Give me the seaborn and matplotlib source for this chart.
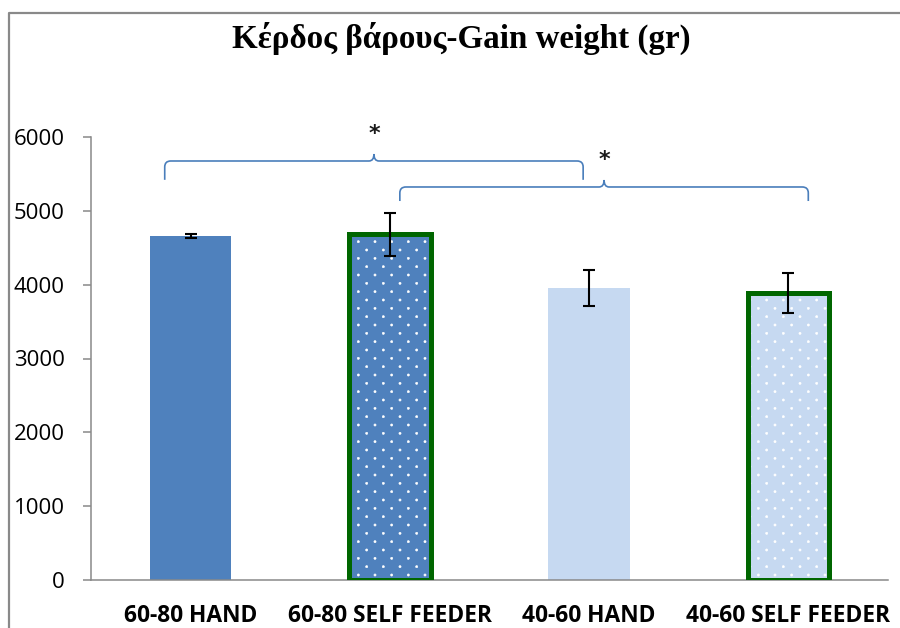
import numpy as np
import pandas as pd
import matplotlib
matplotlib.use("Agg")
import matplotlib.pyplot as plt
import matplotlib.hatch as mhatch
from matplotlib.path import Path
from matplotlib.patches import PathPatch, Rectangle
from matplotlib.lines import Line2D
import seaborn as sns

# ---- data -------------------------------------------------------------
groups = ["60-80 HAND", "60-80 SELF FEEDER", "40-60 HAND", "40-60 SELF FEEDER"]
gain = [4660, 4680, 3955, 3885]
gain_err = [25, 290, 250, 270]
bar_colors = ["#4F81BD", "#4F81BD", "#C6D9F1", "#C6D9F1"]
self_feeder = [False, True, False, True]
y_ticks = [0, 1000, 2000, 3000, 4000, 5000, 6000]
title = "Κέρδος βάρους-Gain weight (gr)"
# significance brackets: (left x, right x, bracket level, leg depth, label)
brackets = [(-0.13, 1.97, 5675, 255, "*"), (1.05, 3.10, 5323, 190, "*")]


# ---- dotted fill: staggered rows, twice as many rows as columns --------
class StaggeredDots(mhatch.HatchPatternBase):
    def __init__(self, hatch, density):
        n = hatch.count('.') * density
        self.num_vertices = 0
        if n == 0:
            return
        circle = Path.unit_circle()
        radius = 0.065 / n
        verts, codes = [], []
        for row in range(2 * n + 1):
            y = row / (2 * n)
            if row % 2 == 0:
                xs = np.linspace(0, 1, n + 1)
            else:
                xs = np.linspace(0.5 / n, 1 - 0.5 / n, n)
            for x in xs:
                verts.append(circle.vertices * radius + [x, y])
                codes.append(circle.codes)
        self._v = np.concatenate(verts)
        self._c = np.concatenate(codes)
        self.num_vertices = len(self._v)

    def set_vertices_and_codes(self, vertices, codes):
        vertices[:] = self._v
        codes[:] = self._c


mhatch._hatch_types = [StaggeredDots if t is mhatch.SmallFilledCircles else t
                       for t in mhatch._hatch_types]

sns.set_style("white")
plt.rcParams["font.family"] = ["Open Sans", "DejaVu Sans"]
plt.rcParams["hatch.color"] = "white"
plt.rcParams["hatch.linewidth"] = 0.4

W, H = 900, 628
fig = plt.figure(figsize=(W / 100, H / 100), dpi=100)
ax = fig.add_axes([91 / W, 48 / H, (888 - 91) / W, (580 - 137) / H])

df = pd.DataFrame({"group": groups, "gain": gain})
sns.barplot(data=df, x="group", y="gain", hue="group", palette=bar_colors,
            width=0.41, errorbar=None, legend=False, saturation=1, ax=ax)

bars = sorted(ax.patches, key=lambda p: p.get_x())
for bar, dotted in zip(bars, self_feeder):
    bar.set_linewidth(0)
    if dotted:
        bar.set_edgecolor("white")
        bar.set_hatch(".")
        ax.add_patch(Rectangle(bar.get_xy(), bar.get_width(), bar.get_height(),
                               fill=False, edgecolor="#006600", linewidth=3.6,
                               joinstyle="miter", zorder=3))

ax.errorbar(range(len(groups)), gain, yerr=gain_err, fmt="none",
            ecolor="black", elinewidth=1.5, capsize=4.3, capthick=1.5, zorder=5)

# ---- axes styling -----------------------------------------------------
grey = "#898989"
ax.set_xlim(-0.5, len(groups) - 0.5)
ax.set_ylim(0, 6000)
ax.set_yticks(y_ticks)
ax.set_xlabel("")
ax.set_ylabel("")
for side in ("top", "right"):
    ax.spines[side].set_visible(False)
for side in ("left", "bottom"):
    ax.spines[side].set_color(grey)
    ax.spines[side].set_linewidth(1.1)

ax.set_xticks(range(len(groups)))
ax.set_xticklabels(groups)
ax.set_xticks(np.arange(-0.5, len(groups), 1.0), minor=True)
ax.tick_params(axis="x", which="major", length=0, pad=17)
ax.tick_params(axis="x", which="minor", length=6, width=1.1, color=grey,
               direction="out")
ax.tick_params(axis="y", length=6, width=1.1, color=grey, direction="out",
               pad=13, left=True)
for lab in ax.get_yticklabels():
    lab.set_fontsize(16)
    lab.set_color("black")
for lab in ax.get_xticklabels():
    lab.set_fontsize(16.4)
    lab.set_fontweight("bold")
    lab.set_color("black")

# ---- significance braces ---------------------------------------------
px_x = 1 / 199.0      # data units per pixel, x
px_y = 6000 / 443.0   # data units per pixel, y
for x0, x1, yh, depth, label in brackets:
    xm = (x0 + x1) / 2
    rx, ry = 6 * px_x, 6 * px_y
    cx, peak = 5 * px_x, 7 * px_y
    verts = [
        (x0, yh - depth), (x0, yh - ry),
        (x0, yh), (x0 + rx, yh),
        (xm - cx, yh),
        (xm, yh), (xm, yh + peak),
        (xm, yh), (xm + cx, yh),
        (x1 - rx, yh),
        (x1, yh), (x1, yh - ry),
        (x1, yh - depth),
    ]
    codes = [Path.MOVETO, Path.LINETO,
             Path.CURVE3, Path.CURVE3,
             Path.LINETO,
             Path.CURVE3, Path.CURVE3,
             Path.CURVE3, Path.CURVE3,
             Path.LINETO,
             Path.CURVE3, Path.CURVE3,
             Path.LINETO]
    ax.add_patch(PathPatch(Path(verts, codes), fill=False, edgecolor="#4A7EBB",
                           linewidth=1.2, clip_on=False, zorder=4))
    ax.annotate(label, xy=(xm, yh), xytext=(0, 15), textcoords="offset points",
                ha="center", va="baseline", fontsize=16, fontweight="bold",
                color="#1a1a1a", annotation_clip=False,
                family=["DejaVu Sans"])

# ---- title and chart frame --------------------------------------------
fig.text(461 / W, 1 - 48 / H, title, ha="center", va="baseline",
         family=["Liberation Serif"], fontweight="bold", fontsize=23.8,
         color="black")
frame_y = 1 - 12.5 / H
frame_x = 9 / W
fig.add_artist(Line2D([frame_x, frame_x, 1], [0, frame_y, frame_y],
                      transform=fig.transFigure, color=grey, linewidth=1.6))

fig.savefig("out.png", dpi=100)
